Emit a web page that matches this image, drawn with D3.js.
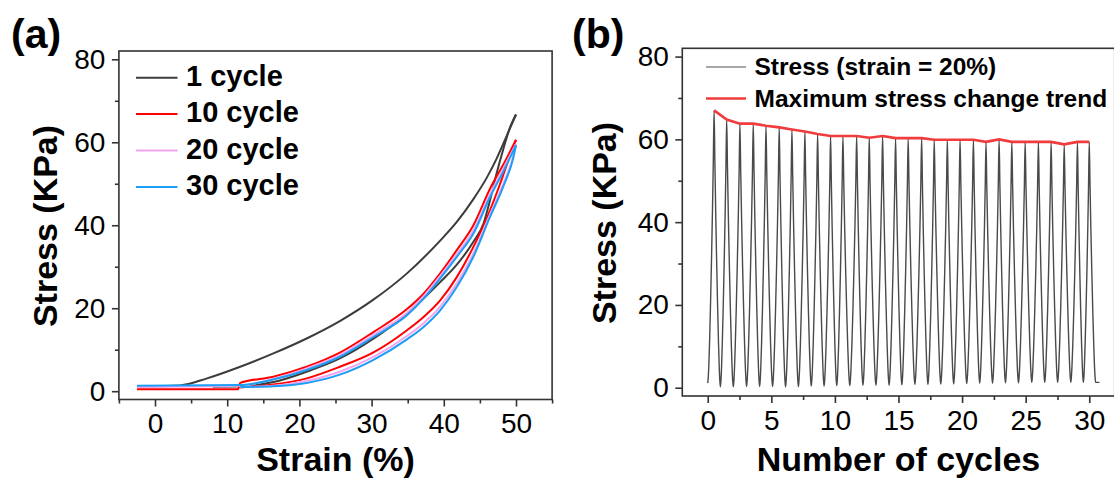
<!DOCTYPE html>
<html>
<head>
<meta charset="utf-8">
<script src="https://cdn.jsdelivr.net/npm/d3@7/dist/d3.min.js"></script>
<style>
body { margin: 0; background: #fff; }
svg { display: block; font-family: Arial, "Liberation Sans", sans-serif; }
</style>
</head>
<body>
<svg id="fig" width="1114" height="479"></svg>
<script>
// ---- panel (a): stress vs strain, [strain %, stress KPa]
var cycle1Load = [[-2.5,1.2],[0,1.2],[3.5,1.4],[7.2,3.1],[11.8,5.9],[16.4,9.1],[21,12.7],[25.6,16.9],[30.2,22],[34.9,28.4],[39.5,36.3],[41.8,40.8],[44.1,46.3],[45.9,51.3],[47.3,56],[48.7,61.5],[50,66.7]]
var cycle1Unload = [[8,1.1],[11.8,1.2],[16.4,2.2],[21,4.7],[25.6,7.9],[30.2,12.6],[34.9,18.7],[39.5,26.3],[41.8,30.5],[44.1,36],[45.5,40.4],[46.4,46],[47.3,52.4],[48.2,58.1],[49.2,63.7],[50,66.7]]
var cycle10Load = [[-2.5,0.5],[11.5,0.5],[11.8,2],[16.4,3.5],[21,5.9],[25.6,9.3],[30.2,14.2],[34.9,19.8],[37.2,23.5],[39.5,28.4],[41.8,34],[44.1,40],[46.4,48.8],[48.7,56.1],[50,60.6]]
var cycle10Unload = [[11.8,0.9],[16.4,1.6],[21,3.1],[25.6,5.9],[30.2,9.3],[34.9,14.7],[37.2,17.9],[39.5,21.9],[41.8,27.5],[44.1,34.8],[46.4,43.6],[47.8,50],[49.2,56.9],[50,60.6]]
var cycle20Load = [[-2.5,1],[11.8,1.3],[16.4,3],[21,5.5],[25.6,8.7],[30.2,13.5],[34.9,18.9],[37.2,22.9],[39.5,27.8],[41.8,33],[44.1,38.8],[46.4,47.5],[48.2,53.5],[50,59.6]]
var cycle20Unload = [[11.8,1],[16.4,1.3],[21,2.5],[25.6,4.7],[30.2,8.2],[34.9,13.3],[37.2,16.4],[39.5,20.4],[41.8,26],[44.1,33.2],[46.4,42.6],[48.2,49.8],[49.6,56.6],[50,59.6]]
var cycle30Load = [[-2.5,1.3],[11.8,1.5],[16.4,2.8],[21,5.1],[25.6,8.3],[30.2,13],[34.9,18.3],[37.2,22.3],[39.5,27.2],[41.8,32.4],[44.1,38],[46.4,46.8],[48.2,52.8],[50,59.3]]
var cycle30Unload = [[11.8,1],[16.4,1.2],[21,2],[25.6,4],[30.2,7.5],[34.9,12.5],[37.2,15.5],[39.5,19.5],[41.8,25.1],[44.1,32.4],[46.4,42],[48.2,49.2],[49.6,56.1],[50,59.3]]
var cycleNames = ['1 cycle', '10 cycle', '20 cycle', '30 cycle']
var cycleColors = ['#3c3c3c', '#ff0000', '#f2a6f2', '#1c9ef5']

// ---- panel (b): stress over 30 cycles
var peakCycle = [0.50,1.49,2.53,3.58,4.58,5.62,6.62,7.64,8.64,9.66,10.63,11.71,12.70,13.75,14.77,15.76,16.82,17.81,18.84,19.84,20.89,21.88,22.91,23.91,24.96,26.00,27.00,28.03,29.07,30.00]
var peakStress = [67.0,64.8,63.8,63.8,63.3,62.9,62.4,61.9,61.3,60.8,60.8,60.8,60.4,60.8,60.3,60.3,60.3,59.9,59.9,59.9,59.9,59.4,60.0,59.4,59.4,59.4,59.4,58.8,59.4,59.4]
var valleyStress = [1.1,0.2,0.2,0.3,0.3,0.3,0.2,0.3,0.4,0.4,0.5,0.5,0.6,0.6,0.6,0.7,0.8,0.8,0.9,0.9,1.0,1.1,1.1,1.2,1.2,1.3,1.3,1.3,1.3,1.3,1.3]
// shape of one pulse: part of rise time -> part of peak height
var pulseTime = [0, 0.08, 0.18, 0.3, 0.45, 0.6, 0.75, 0.88, 1]
var pulseHeight = [0, 0.02, 0.07, 0.16, 0.3, 0.46, 0.64, 0.82, 1]
var lastCycle = 30.8

var svg = d3.select('#fig')
var frameColor = '#333'

function drawAxes (x, y, xMajor, xMinor, yMajor, yMinor) {
    var g = svg.append('g')
    var bottom = y.range()[0], top = y.range()[1]
    var left = x.range()[0], right = x.range()[1]
    g.append('g').attr('transform', `translate(0,${bottom})`)
        .call(d3.axisBottom(x).tickValues(xMajor).tickSize(7).tickPadding(7).tickFormat(d3.format('d')))
    g.append('g').attr('transform', `translate(0,${bottom})`)
        .call(d3.axisBottom(x).tickValues(xMinor).tickSize(4).tickFormat(''))
    g.append('g').attr('transform', `translate(${left},0)`)
        .call(d3.axisLeft(y).tickValues(yMajor).tickSize(7).tickPadding(6.5).tickFormat(d3.format('d')))
    g.append('g').attr('transform', `translate(${left},0)`)
        .call(d3.axisLeft(y).tickValues(yMinor).tickSize(4).tickFormat(''))
    g.selectAll('.domain').remove()
    g.selectAll('.tick line').attr('stroke', frameColor).attr('stroke-width', 1.6)
    g.selectAll('.tick text').attr('font-size', '28px').attr('fill', '#000')
        .attr('font-family', 'Arial, "Liberation Sans", sans-serif')
    g.append('rect')
        .attr('x', left).attr('y', top)
        .attr('width', right - left).attr('height', bottom - top)
        .attr('fill', 'none').attr('stroke', frameColor).attr('stroke-width', 1.6)
}

function axisTitles (cx, cy, xText, xTitleY, yTitleX) {
    svg.append('text').attr('x', cx).attr('y', xTitleY)
        .attr('text-anchor', 'middle').attr('font-size', '34px').attr('font-weight', 'bold')
        .text(xText)
    svg.append('text')
        .attr('transform', `translate(${yTitleX},${cy}) rotate(-90)`)
        .attr('text-anchor', 'middle').attr('dy', '0.36em')
        .attr('font-size', '34px').attr('font-weight', 'bold')
        .text('Stress (KPa)')
}

// ===== panel (a)
var xA = d3.scaleLinear().domain([-5, 55]).range([118.9, 552.1])
var yA = d3.scaleLinear().domain([-2, 82]).range([399.5, 51])
drawAxes(xA, yA, [0, 10, 20, 30, 40, 50], [-5, 5, 15, 25, 35, 45, 55], [0, 20, 40, 60, 80], [10, 30, 50, 70])

var lineA = d3.line().x(d => xA(d[0])).y(d => yA(d[1])).curve(d3.curveMonotoneX)
var branchesA = [[cycle1Load, cycle1Unload], [cycle10Load, cycle10Unload], [cycle20Load, cycle20Unload], [cycle30Load, cycle30Unload]]
branchesA.forEach(function (pair, i) {
    pair.forEach(function (b) {
        svg.append('path').datum(b)
            .attr('d', lineA)
            .attr('fill', 'none')
            .attr('stroke', cycleColors[i])
            .attr('stroke-width', 2)
    })
})

// legend (a)
cycleNames.forEach(function (name, i) {
    var ly = 77.7 + i * 36.4
    svg.append('line').attr('x1', 136).attr('x2', 177.5).attr('y1', ly).attr('y2', ly)
        .attr('stroke', cycleColors[i]).attr('stroke-width', 2)
    svg.append('text').attr('x', 186).attr('y', ly + 8)
        .attr('font-size', '29px').attr('font-weight', 'bold').text(name)
})

axisTitles((118.9 + 552.1) / 2, 226, 'Strain (%)', 471, 44.6)
svg.append('text').attr('x', 11).attr('y', 48).attr('font-size', '41px').attr('font-weight', 'bold').text('(a)')

// ===== panel (b)
var xB = d3.scaleLinear().domain([-2, 32]).range([682.3, 1114.7])
var yB = d3.scaleLinear().domain([-2, 82]).range([396, 48.3])
drawAxes(xB, yB, [0, 5, 10, 15, 20, 25, 30], [2.5, 7.5, 12.5, 17.5, 22.5, 27.5], [0, 20, 40, 60, 80], [10, 30, 50, 70])

// stress trace: each pulse rises from a valley to its peak and falls to the next valley
var valleyCycle = [0]
for (var k = 1; k < peakCycle.length; k++) valleyCycle.push((peakCycle[k - 1] + peakCycle[k]) / 2)
valleyCycle.push(peakCycle[peakCycle.length - 1] + 0.5)

var trace = []
peakCycle.forEach(function (pc, k) {
    var t0 = valleyCycle[k], t1 = valleyCycle[k + 1]
    var v0 = valleyStress[k], v1 = valleyStress[k + 1], p = peakStress[k]
    for (var j = 0; j < pulseTime.length; j++) {
        trace.push([t0 + pulseTime[j] * (pc - t0), v0 + pulseHeight[j] * (p - v0)])
    }
    for (var j = pulseTime.length - 2; j >= 0; j--) {
        trace.push([pc + (1 - pulseTime[j]) * (t1 - pc), v1 + pulseHeight[j] * (p - v1)])
    }
})
trace.push([lastCycle, valleyStress[valleyStress.length - 1]])

var lineB = d3.line().x(d => xB(d[0])).y(d => yB(d[1])).curve(d3.curveMonotoneX)
svg.append('path').datum(trace)
    .attr('d', lineB)
    .attr('fill', 'none')
    .attr('stroke', '#4a4a4a')
    .attr('stroke-width', 1.4)

var trend = peakCycle.map((c, i) => [c, peakStress[i]])
svg.append('path').datum(trend)
    .attr('d', d3.line().x(d => xB(d[0])).y(d => yB(d[1])))
    .attr('fill', 'none')
    .attr('stroke', '#f03c3c')
    .attr('stroke-width', 2.6)

// legend (b)
var legendB = [['Stress (strain = 20%)', '#505050', 1.2], ['Maximum stress change trend', '#f03c3c', 2.6]]
legendB.forEach(function (d, i) {
    var ly = 67 + i * 31.5
    svg.append('line').attr('x1', 706).attr('x2', 746).attr('y1', ly).attr('y2', ly)
        .attr('stroke', d[1]).attr('stroke-width', d[2])
    svg.append('text').attr('x', 754.5).attr('y', ly + 8)
        .attr('font-size', '24.5px').attr('font-weight', 'bold').text(d[0])
})

axisTitles((682.3 + 1114.7) / 2, 223, 'Number of cycles', 471, 604)
svg.append('text').attr('x', 572).attr('y', 48).attr('font-size', '41px').attr('font-weight', 'bold').text('(b)')
</script>
</body>
</html>
